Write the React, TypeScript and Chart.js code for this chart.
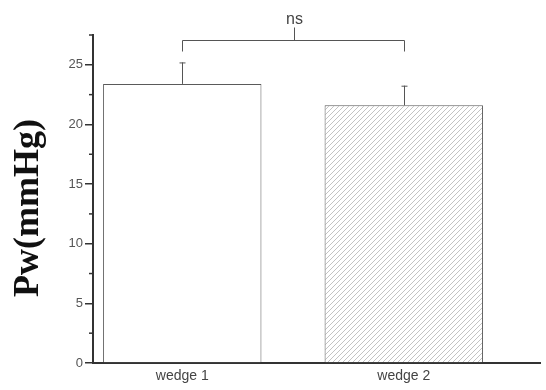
import React, { useEffect, useRef } from 'react';
import { Chart, registerables } from 'chart.js';

Chart.register(...registerables);

const categories = ['wedge 1', 'wedge 2'];
const categoryPositions = [1, 2];
const values = [23.4, 21.6];
const errors = [1.8, 1.65];
const yMajorTicks = [0, 5, 10, 15, 20, 25];
const yMinorTicks = [2.5, 7.5, 12.5, 17.5, 22.5, 27.5];
const yMin = 0;
const yMax = 27.5;
const xMin = 0.597;
const xMax = 2.615;
const yTitle = 'Pw(mmHg)';
const significance = 'ns';
const bracketLevel = 27.1;

function makeHatch(): CanvasPattern | string {
  const c = document.createElement('canvas');
  c.width = 5;
  c.height = 5;
  const ctx = c.getContext('2d');
  if (!ctx) return '#eeeeee';
  ctx.fillStyle = '#ffffff';
  ctx.fillRect(0, 0, 5, 5);
  ctx.strokeStyle = '#b4b4b4';
  ctx.lineWidth = 0.8;
  ctx.beginPath();
  ctx.moveTo(-1, 6);
  ctx.lineTo(6, -1);
  ctx.moveTo(-1, 1);
  ctx.lineTo(1, -1);
  ctx.moveTo(4, 6);
  ctx.lineTo(6, 4);
  ctx.stroke();
  return ctx.createPattern(c, 'repeat') || '#eeeeee';
}

const overlayPlugin = {
  id: 'overlay',
  afterDatasetsDraw(chart: any) {
    const ctx = chart.ctx as CanvasRenderingContext2D;
    const y = chart.scales.y;
    const meta = chart.getDatasetMeta(0);
    ctx.save();

    // error bars
    ctx.strokeStyle = '#555';
    ctx.lineWidth = 1;
    meta.data.forEach((bar: any, i: number) => {
      const top = y.getPixelForValue(values[i] + errors[i]);
      const bx = Math.round(bar.x) + 0.5;
      ctx.beginPath();
      ctx.moveTo(bx, bar.y);
      ctx.lineTo(bx, top);
      ctx.moveTo(bx - 3, top + 0.5);
      ctx.lineTo(bx + 3, top + 0.5);
      ctx.stroke();
    });

    // minor ticks
    ctx.strokeStyle = '#333';
    ctx.lineWidth = 1.5;
    yMinorTicks.forEach((v) => {
      const py = y.getPixelForValue(v);
      ctx.beginPath();
      ctx.moveTo(chart.chartArea.left - 4, py);
      ctx.lineTo(chart.chartArea.left, py);
      ctx.stroke();
    });

    // significance bracket
    const x1 = Math.round(meta.data[0].x) + 0.5;
    const x2 = Math.round(meta.data[1].x) + 0.5;
    const by = Math.round(y.getPixelForValue(bracketLevel)) + 0.5;
    const xm = Math.round((x1 + x2) / 2) + 0.5;
    ctx.strokeStyle = '#555';
    ctx.lineWidth = 1;
    ctx.beginPath();
    ctx.moveTo(x1, by + 11);
    ctx.lineTo(x1, by);
    ctx.lineTo(x2, by);
    ctx.lineTo(x2, by + 11);
    ctx.moveTo(xm, by);
    ctx.lineTo(xm, by - 13);
    ctx.stroke();

    ctx.fillStyle = '#444';
    ctx.font = '16px "Liberation Sans", Arial, sans-serif';
    ctx.textAlign = 'center';
    ctx.textBaseline = 'middle';
    ctx.fillText(significance, xm, by - 21);

    // y axis title
    const cy = (chart.chartArea.top + chart.chartArea.bottom) / 2 + 9;
    ctx.translate(29, cy);
    ctx.rotate(-Math.PI / 2);
    ctx.fillStyle = '#111';
    ctx.font = 'bold 36px "Liberation Serif", "Times New Roman", serif';
    ctx.textAlign = 'center';
    ctx.textBaseline = 'middle';
    ctx.fillText(yTitle, 0, 0);

    ctx.restore();
  },
};

export default function App() {
  const canvasRef = useRef<HTMLCanvasElement | null>(null);

  useEffect(() => {
    const canvas = canvasRef.current;
    if (!canvas) return;
    const hatch = makeHatch();
    const chart = new Chart(canvas, {
      type: 'bar',
      data: {
        datasets: [
          {
            data: values.map((v, i) => ({ x: categoryPositions[i], y: v })),
            backgroundColor: ['#ffffff', hatch],
            borderColor: '#5a5a5a',
            borderWidth: 1,
            barPercentage: 0.715,
            categoryPercentage: 1,
          } as any,
        ],
      },
      options: {
        responsive: false,
        animation: false,
        layout: { padding: { top: 35, right: 6, left: 0, bottom: 0 } },
        plugins: {
          legend: { display: false },
          tooltip: { enabled: false },
        },
        scales: {
          x: {
            type: 'linear',
            min: xMin,
            max: xMax,
            offset: false,
            grid: { display: false, drawTicks: false },
            border: { display: true, color: '#333', width: 2 },
            afterBuildTicks: (scale: any) => {
              scale.ticks = categoryPositions.map((v) => ({ value: v }));
            },
            afterFit: (scale: any) => {
              scale.height = 27;
            },
            ticks: {
              padding: 5,
              color: '#444',
              font: { family: '"Liberation Sans", Arial, sans-serif', size: 14 },
              callback: (v: any) => categories[categoryPositions.indexOf(Number(v))] ?? '',
              maxRotation: 0,
              autoSkip: false,
            },
          },
          y: {
            type: 'linear',
            min: yMin,
            max: yMax,
            grid: {
              drawOnChartArea: false,
              drawTicks: true,
              tickLength: 8,
              color: '#333',
              lineWidth: 1.5,
            },
            border: { display: true, color: '#333', width: 2 },
            afterBuildTicks: (scale: any) => {
              scale.ticks = yMajorTicks.map((v) => ({ value: v }));
            },
            afterFit: (scale: any) => {
              scale.width = 93;
            },
            ticks: {
              padding: 2,
              color: '#555',
              font: { family: '"Liberation Sans", Arial, sans-serif', size: 13 },
            },
          },
        },
      },
      plugins: [overlayPlugin],
    });
    return () => chart.destroy();
  }, []);

  return (
    <div style={{ position: 'absolute', left: 0, top: 0, width: 546, height: 390, background: '#fff' }}>
      <canvas ref={canvasRef} width={546} height={390} />
    </div>
  );
}
